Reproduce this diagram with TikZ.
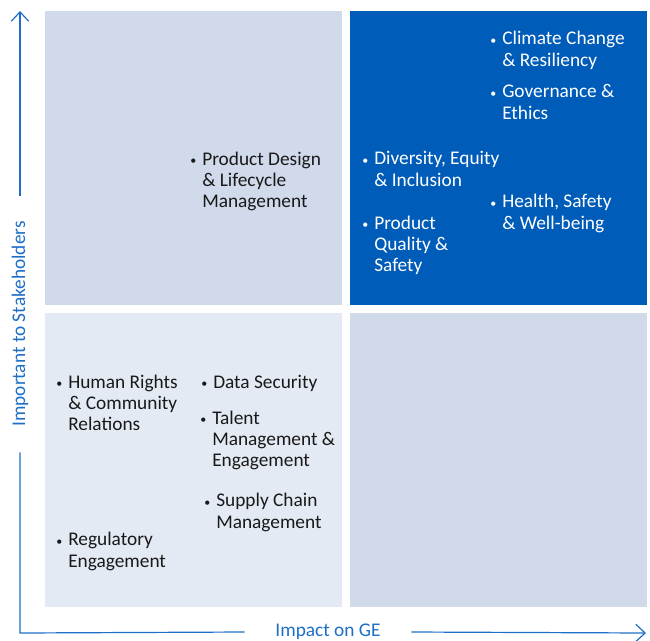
\documentclass[tikz,border=0pt]{standalone}
\usepackage{fontspec}
\setmainfont{Carlito}
\usetikzlibrary{arrows.meta,positioning}
\definecolor{darkq}{RGB}{0,92,185}
\definecolor{lightq}{RGB}{208,218,235}
\definecolor{paleq}{RGB}{228,234,244}
\definecolor{axisblue}{RGB}{30,110,200}
\definecolor{itemtext}{RGB}{25,25,25}
\newcommand{\itemdot}{\llap{\raisebox{0.6pt}{\fontsize{9}{9}\selectfont\textbullet}\hspace{4.5pt}}}

\begin{document}
\begin{tikzpicture}[
    x=0.75pt, y=-0.75pt,
    node distance=5.25pt,
    every node/.style={font=\fontsize{14.5}{16}\selectfont},
    quad/.style={minimum width=222.75pt, minimum height=220.5pt, inner sep=0pt},
    item/.style={anchor=base west, align=left, inner sep=0pt, text=itemtext},
    initem/.style={item, text=white},
    axis/.style={draw=axisblue, line width=0.9pt},
    tip/.style={-{Straight Barb[length=7pt, width=13pt, line width=0.9pt]}},
    axislabel/.style={text=axisblue, inner ysep=0pt}
]
\useasboundingbox (0,0) rectangle (650,640);
\node[quad, fill=lightq, anchor=north west] (midhigh) at (45,11) {};
\node[quad, fill=darkq, right=of midhigh] (highhigh) {};
\node[quad, fill=paleq, below=of midhigh] (lowlow) {};
\node[quad, fill=lightq, right=of lowlow] (highlow) {};

% base = baseline of the last line
\node[initem] (climate) at (502,66.3) {\itemdot Climate Change\\\& Resiliency};
\node[initem] (governance) at (502,119.3) {\itemdot Governance \&\\Ethics};
\node[initem] (diversity) at (374,186.3) {\itemdot Diversity, Equity\\\& Inclusion};
\node[initem] (health) at (502,229.3) {\itemdot Health, Safety\\\& Well-being};
\node[initem] (quality) at (374,271.7) {\itemdot Product\\Quality \&\\Safety};
\node[item] (design) at (202,207.7) {\itemdot Product Design\\\& Lifecycle\\Management};
\node[item] (rights) at (68,430.7) {\itemdot Human Rights\\\& Community\\Relations};
\node[item] (data) at (213,388) {\itemdot Data Security};
\node[item] (talent) at (212,466.7) {\itemdot Talent\\Management \&\\Engagement};
\node[item] (supply) at (216,528.3) {\itemdot Supply Chain\\Management};
\node[item] (regulatory) at (68,567.3) {\itemdot Regulatory\\Engagement};

\coordinate (origin) at (20,633);
\coordinate (ytip) at (20,11);
\coordinate (xtip) at (646,633);
\node[axislabel, rotate=90, inner xsep=19pt] (ylabel) at (20,324) {Important to Stakeholders};
\node[axislabel, inner xsep=23pt] (xlabel) at (328,632) {Impact on GE};
\draw[axis] (ylabel.west) -- (origin) -- (xlabel.west);
\draw[axis, tip] (ylabel.east) -- (ytip);
\draw[axis, tip] (xlabel.east) -- (xtip);
\end{tikzpicture}
\end{document}
